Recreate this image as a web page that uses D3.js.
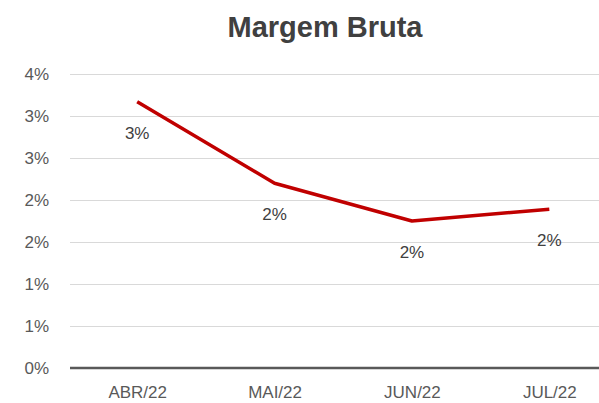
<!DOCTYPE html>
<html>
<head>
<meta charset="utf-8">
<script src="https://cdn.jsdelivr.net/npm/d3@7"></script>
<style>
  body { margin: 0; background: #fff; }
  svg { display: block; font-family: "Liberation Sans", Arial, sans-serif; }
</style>
</head>
<body>
<div id="chart"></div>
<script>
// data
const months = ["ABR/22", "MAI/22", "JUN/22", "JUL/22"];
const margem = [0.0317, 0.0220, 0.0175, 0.0189];
const tickValues = [0, 0.005, 0.01, 0.015, 0.02, 0.025, 0.03, 0.035];
const tickLabels = ["0%", "1%", "1%", "2%", "2%", "3%", "3%", "4%"];

//size
const width = 599;
const height = 403;
const plot = { left: 70, right: 618, top: 74, bottom: 368 };

const svg = d3.select("#chart")
  .append("svg")
  .attr("width", width)
  .attr("height", height);

//scales
const x = d3.scalePoint()
  .domain(months)
  .range([plot.left - 1.5, plot.right])
  .padding(0.5);

const y = d3.scaleLinear()
  .domain([0, 0.035])
  .range([plot.bottom, plot.top]);

//title
svg.append("text")
  .attr("x", 325)
  .attr("y", 37)
  .attr("text-anchor", "middle")
  .attr("font-size", 29)
  .attr("font-weight", "bold")
  .attr("fill", "#404040")
  .text("Margem Bruta");

//grid + y labels
const yAxis = d3.axisLeft(y)
  .tickValues(tickValues)
  .tickSize(-(plot.right - plot.left))
  .tickFormat((d, i) => tickLabels[i]);

svg.append("g")
  .attr("transform", `translate(${plot.left},0)`)
  .call(yAxis)
  .call((g) => {
    g.select(".domain").remove();
    g.selectAll("line").attr("stroke", "#d9d9d9").attr("stroke-width", 1);
    g.selectAll("text")
      .attr("x", -21)
      .attr("font-size", 17)
      .attr("fill", "#595959")
      .attr("font-family", "Liberation Sans, Arial, sans-serif");
  });

//x axis
svg.append("g")
  .attr("transform", `translate(0,${plot.bottom})`)
  .call(d3.axisBottom(x).tickSize(0))
  .call((g) => {
    g.select(".domain")
      .attr("d", `M${plot.left},0H${plot.right}`)
      .attr("stroke", "#595959")
      .attr("stroke-width", 2.5);
    g.selectAll("text")
      .attr("y", 18)
      .attr("font-size", 17)
      .attr("fill", "#595959")
      .attr("font-family", "Liberation Sans, Arial, sans-serif");
  });

//line
const line = d3.line()
  .x((d, i) => x(months[i]))
  .y((d) => y(d));

svg.append("path")
  .datum(margem)
  .attr("fill", "none")
  .attr("stroke", "#c00000")
  .attr("stroke-width", 3.5)
  .attr("stroke-linejoin", "round")
  .attr("d", line);

//data labels
svg.append("g")
  .selectAll("text")
  .data(margem)
  .join("text")
  .attr("x", (d, i) => x(months[i]))
  .attr("y", (d) => y(d) + 37)
  .attr("text-anchor", "middle")
  .attr("font-size", 17)
  .attr("fill", "#404040")
  .text((d) => d3.format(".0%")(d));
</script>
</body>
</html>
